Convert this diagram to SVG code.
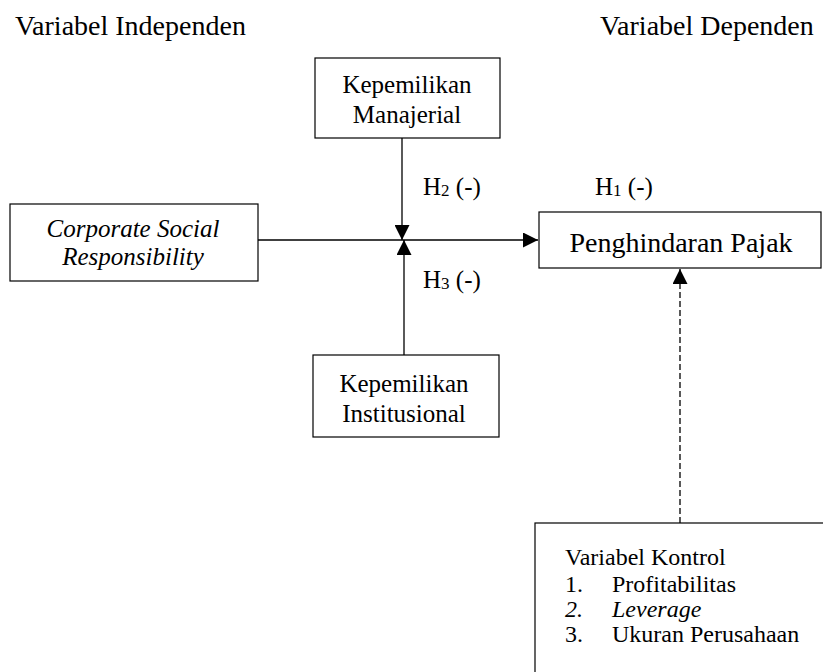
<svg xmlns="http://www.w3.org/2000/svg" width="823" height="672" viewBox="0 0 823 672" font-family="Liberation Serif, Times New Roman, serif">
<style>
text{fill:#000}
.hd{font-size:28px}
.t{font-size:25px}
.c{text-anchor:middle}
.s{font-size:24px}
.sub{font-size:17px}
.box{fill:#fff;stroke:#000;stroke-width:1.2}
.ln{stroke:#000;stroke-width:1.3;fill:none}
</style>
<defs>
<marker id="ah" viewBox="0 0 10 10" refX="10" refY="5" markerWidth="15" markerHeight="15" markerUnits="userSpaceOnUse" orient="auto">
<path d="M0,0 L10,5 L0,10 z" fill="#000"/>
</marker>
</defs>
<text class="hd" x="15" y="35">Variabel Independen</text>
<text class="hd" x="600" y="35">Variabel Dependen</text>
<g id="connectors">
<line class="ln" x1="402" y1="138" x2="402" y2="240" marker-end="url(#ah)"/>
<line class="ln" x1="404" y1="355" x2="404" y2="240" marker-end="url(#ah)"/>
<line class="ln" x1="258" y1="240" x2="538" y2="240" marker-end="url(#ah)"/>
<line class="ln" x1="680" y1="523" x2="680" y2="269" stroke-dasharray="6,3" marker-end="url(#ah)"/>
<text class="t" x="423" y="195">H<tspan class="sub" dy="1">2</tspan><tspan dy="-1"> (-)</tspan></text>
<text class="t" x="423" y="288">H<tspan class="sub" dy="1">3</tspan><tspan dy="-1"> (-)</tspan></text>
<text class="t" x="595" y="195">H<tspan class="sub" dy="1">1</tspan><tspan dy="-1"> (-)</tspan></text>
</g>
<g id="manajerial">
<rect class="box" x="315" y="58" width="185" height="80"/>
<text class="t c" x="407" y="93">Kepemilikan</text>
<text class="t c" x="407" y="123">Manajerial</text>
</g>
<g id="csr">
<rect class="box" x="10" y="204" width="248" height="77"/>
<text class="t c" x="133" y="237" font-style="italic">Corporate Social</text>
<text class="t c" x="133" y="265" font-style="italic">Responsibility</text>
</g>
<g id="penghindaran">
<rect class="box" x="539" y="212" width="282" height="56"/>
<text class="hd c" x="681" y="252">Penghindaran Pajak</text>
</g>
<g id="institusional">
<rect class="box" x="313" y="355" width="186" height="82"/>
<text class="t c" x="404" y="392">Kepemilikan</text>
<text class="t c" x="404" y="422">Institusional</text>
</g>
<g id="kontrol">
<rect class="box" x="535" y="523" width="300" height="160"/>
<text class="s" x="565" y="565">Variabel Kontrol</text>
<text class="s" x="565" y="592">1.</text>
<text class="s" x="612" y="592">Profitabilitas</text>
<text class="s" x="565" y="617" font-style="italic">2.</text>
<text class="s" x="612" y="617" font-style="italic">Leverage</text>
<text class="s" x="565" y="642">3.</text>
<text class="s" x="612" y="642">Ukuran Perusahaan</text>
</g>
</svg>
